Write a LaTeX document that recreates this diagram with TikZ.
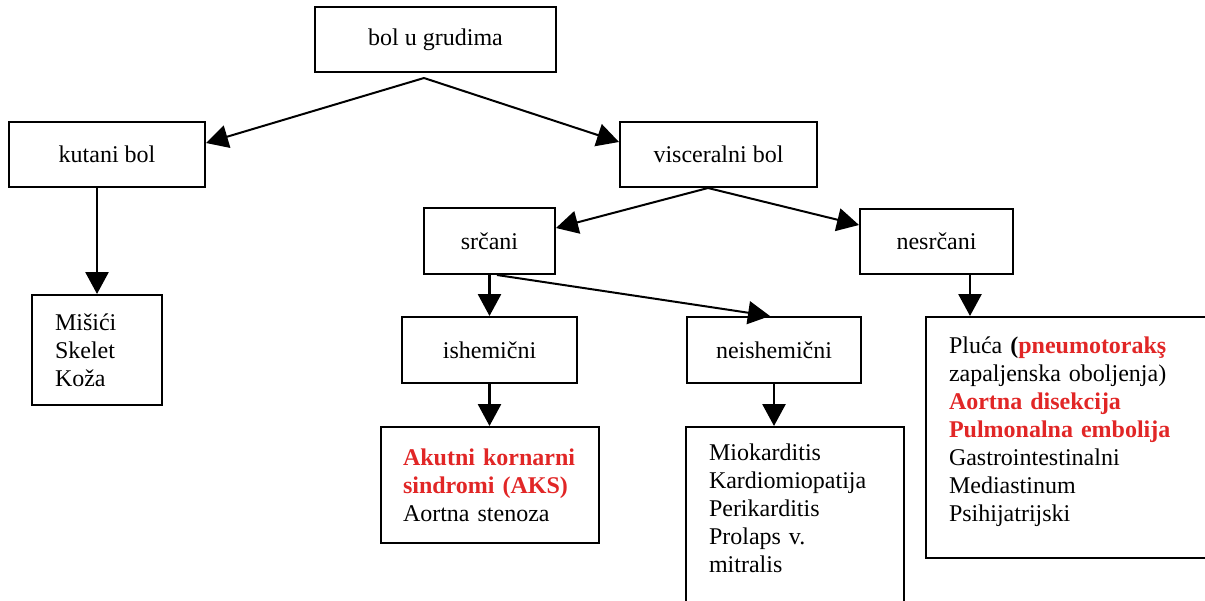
\documentclass[tikz,border=0pt]{standalone}
\usepackage{fontspec}
\setmainfont{Liberation Serif}
\usepackage{tikz}
\usetikzlibrary{arrows.meta}
\definecolor{akcent}{RGB}{225,38,38}
\newcommand{\hl}[1]{\textcolor{akcent}{\textbf{#1}}}

\begin{document}
\begin{tikzpicture}
	[x=0.5pt, y=-0.5pt, thick,
	every node/.style={font=\fontsize{12}{14}\selectfont},
	box/.style={draw, line width=1pt, inner sep=0pt},
	listbox/.style={box, align=left},
	arr/.style={-{Triangle[length=11pt,width=11.5pt]}, line width=1pt},
	down/.style={arr, line width=1.4pt}]
	\useasboundingbox (0,0) rectangle (1205,600);
	% levels
	\node[box, minimum width=120.5pt, minimum height=32.5pt] (gruds) at (435.5,39.5) {bol u grudima};
	\node[box, minimum width=98pt, minimum height=32.5pt] (kutani) at (107,154.5) {kutani bol};
	\node[box, minimum width=98.5pt, minimum height=32.5pt] (visceral) at (718.5,154.5) {visceralni bol};
	\node[box, minimum width=65.5pt, minimum height=33pt] (srcani) at (489.5,241) {srčani};
	\node[box, minimum width=76.5pt, minimum height=32.5pt] (nesrcani) at (936.5,241.5) {nesrčani};
	\node[box, minimum width=87.5pt, minimum height=33pt] (ishem) at (489.5,350) {ishemični};
	\node[box, minimum width=87pt, minimum height=33pt] (neishem) at (774,350) {neishemični};
	% lists
	\node[listbox, minimum width=65pt, minimum height=55pt, text width=42pt] (kutlist) at (97,350)
		{Mišići\\Skelet\\Koža};
	\node[listbox, minimum width=109pt, minimum height=58pt, text width=87pt] (aks) at (490,485)
		{\hl{Akutni kornarni}\\\hl{sindromi (AKS)}\\Aortna stenoza};
	\node[listbox, minimum width=109pt, minimum height=91.5pt, text width=86pt] (miok) at (795,518.5)
		{Miokarditis\\Kardiomiopatija\\Perikarditis\\Prolaps v.\\mitralis\rule[-10pt]{0pt}{0pt}};
	\node[listbox, minimum width=157pt, minimum height=120.5pt, text width=134pt] (pluca) at (1083,437.5)
		{Pluća \textbf{(}\hl{pneumotorakş}\\zapaljenska oboljenja)\\\hl{Aortna disekcija}\\\hl{Pulmonalna embolija}\\Gastrointestinalni\\Mediastinum\\Psihijatrijski\rule[-8pt]{0pt}{0pt}};
	% connectors
	\coordinate (gsplit) at (424,78);
	\draw[arr] (gsplit) -- ([yshift=5.75pt]kutani.east);
	\draw[arr] (gsplit) -- ([yshift=6.25pt]visceral.west);
	\draw[arr] ([xshift=-5.25pt]visceral.south) -- ([yshift=6.5pt]srcani.east);
	\draw[arr] ([xshift=-5.25pt]visceral.south) -- ([yshift=8.25pt]nesrcani.west);
	\draw[down] (kutani.south -| kutlist.north) -- (kutlist.north);
	\draw[down] (srcani.south) -- (ishem.north);
	\draw[arr] ([xshift=3.75pt]srcani.south) -- ([xshift=-2pt]neishem.north);
	\draw[down] ([xshift=16.75pt]nesrcani.south) -- ([xshift=16.75pt]nesrcani.south |- pluca.north);
	\draw[down] (ishem.south) -- (ishem.south |- aks.north);
	\draw[down] (neishem.south) -- (neishem.south |- miok.north);
\end{tikzpicture}
\end{document}
